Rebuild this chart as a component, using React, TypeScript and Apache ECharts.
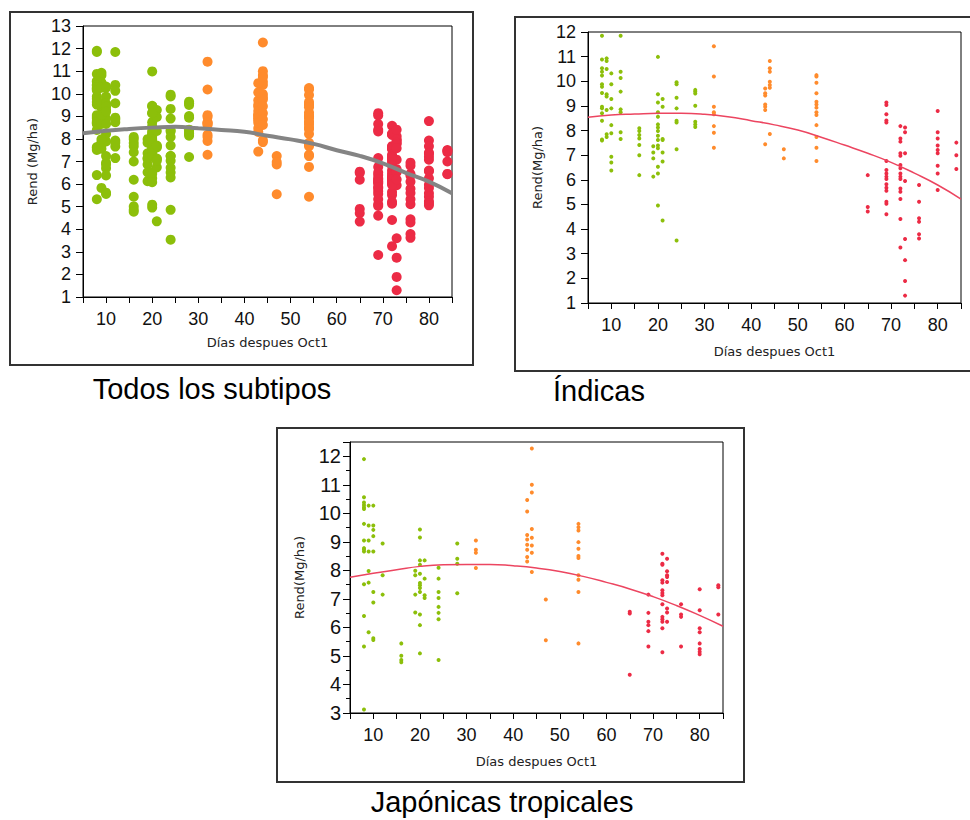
import React, { useEffect, useRef } from "react";
import * as echarts from "echarts";

const col = (x: number, ys: number[]) => ys.map((y) => [x, y]);

// Índicas
const indicaVerde: number[][] = [
  ...col(8, [11.85, 10.88, 10.53, 10.39, 10.23, 9.88, 9.78, 9.52, 8.97, 8.9, 8.7, 8.4, 7.64, 7.6]),
  ...col(9, [10.93, 10.82, 10.5, 9.47, 9.38, 8.83, 7.85, 7.74]),
  ...col(10, [10.32, 9.88, 9.28, 8.9, 8.22, 7.89, 6.94, 6.7, 6.38]),
  ...col(12, [11.85, 10.39, 10.13, 9.58, 8.86, 8.74, 7.93, 7.66]),
  ...col(16, [8.09, 7.98, 7.82, 7.68, 7.41, 7.0, 6.19]),
  ...col(19, [7.36, 7.11, 6.87, 6.13]),
  ...col(20, [10.99, 9.47, 9.14, 8.74, 8.56, 8.25, 8.12, 7.98, 7.79, 7.62, 7.39, 7.28, 6.53, 6.26, 4.96]),
  ...col(21, [9.28, 8.97, 7.66, 7.62, 7.11, 6.74, 4.35]),
  ...col(24, [9.96, 9.88, 9.33, 8.9, 8.4, 8.33, 7.24, 3.54]),
  ...col(28, [9.65, 9.58, 9.5, 9.01, 8.36, 8.25, 8.14]),
];
const indicaNaranja: number[][] = [
  ...col(32, [11.42, 10.19, 8.97, 8.74, 8.66, 8.18, 7.91, 7.3]),
  ...col(43, [9.71, 9.51, 9.42, 9.06, 8.97, 8.83, 7.44]),
  ...col(44, [10.82, 10.53, 10.39, 9.98, 9.85, 9.74, 7.86]),
  ...col(47, [7.24, 6.87]),
  ...col(54, [10.25, 10.19, 9.94, 9.51, 9.17, 9.06, 8.93, 8.74, 8.63, 8.22, 7.74, 7.3, 6.76]),
];
const indicaRojo: number[][] = [
  ...col(65, [6.19, 4.9, 4.71]),
  ...col(69, [9.14, 9.04, 8.66, 8.41, 8.33, 6.76, 6.4, 6.26, 6.13, 6.03, 5.82, 5.68, 5.56, 5.11, 5.03, 4.6]),
  ...col(72, [8.18, 7.68, 7.55, 7.08, 6.98, 6.6, 6.47, 6.26, 6.13, 6.03, 5.65, 5.52, 5.22, 4.41, 3.25]),
  ...col(73, [8.12, 7.93, 7.08, 5.95, 3.6, 2.74, 1.89, 1.3]),
  ...col(76, [5.79, 5.11, 4.44, 4.3, 3.79, 3.62]),
  ...col(80, [8.79, 7.93, 7.68, 7.39, 7.21, 7.08, 6.57, 6.26, 5.59]),
  ...col(84, [7.51, 7.0, 6.44]),
];

// Japónicas tropicales
const japVerde: number[][] = [
  ...col(8, [11.9, 10.56, 10.38, 10.29, 10.21, 10.15, 9.63, 9.05, 8.78, 8.73, 8.66, 7.51, 6.4, 5.33, 3.12]),
  ...col(9, [10.27, 9.57, 9.05, 8.66, 7.98, 7.57, 5.83]),
  ...col(10, [10.27, 9.57, 9.42, 9.2, 8.66, 7.24, 6.87, 5.62, 5.56]),
  ...col(12, [8.94, 7.83, 7.15]),
  ...col(16, [5.44, 5.01, 4.86, 4.78]),
  ...col(19, [7.99, 7.83, 7.15, 6.52]),
  ...col(20, [9.43, 9.15, 8.35, 8.2, 7.88, 7.56, 7.48, 7.38, 7.24, 6.45, 6.08, 5.09]),
  ...col(21, [8.35, 7.71, 7.13, 7.03]),
  ...col(24, [8.09, 7.71, 7.24, 7.03, 6.72, 6.51, 6.29, 4.86]),
  ...col(28, [8.94, 8.41, 8.23, 7.2]),
];
const japNaranja: number[][] = [
  ...col(32, [9.05, 8.72, 8.62, 8.08]),
  ...col(43, [10.47, 10.06, 9.24, 9.08, 8.9, 8.72, 8.47, 8.31]),
  ...col(44, [12.27, 11.0, 10.73, 9.45, 9.14, 8.87, 8.62, 7.94]),
  ...col(47, [6.98, 5.55]),
  ...col(54, [9.63, 9.51, 9.4, 8.99, 8.76, 8.5, 8.43, 7.83, 7.67, 7.24, 5.44]),
];
const japRojo: number[][] = [
  ...col(65, [6.55, 6.49, 4.34]),
  ...col(69, [7.15, 6.51, 6.2, 6.08, 5.87, 5.33]),
  ...col(72, [8.58, 8.23, 8.2, 7.65, 7.57, 7.3, 7.21, 7.13, 6.81, 6.37, 6.29, 6.2, 5.97, 5.13]),
  ...col(73, [8.41, 7.97, 7.83, 7.77, 7.59, 6.66, 6.52, 6.2]),
  ...col(76, [6.81, 6.45, 6.37, 5.33]),
  ...col(80, [7.34, 6.6, 5.97, 5.83, 5.44, 5.24, 5.15, 5.06]),
  ...col(84, [7.48, 7.41, 6.45]),
];

// Otros subtipos (solo en "Todos los subtipos")
const otrosVerde: number[][] = [];
const otrosRojo: number[][] = [[69, 2.86], [76, 6.95], [76, 6.1], [76, 5.6]];
const excluidosTodos: number[][] = [[8, 3.12]];

// Curvas de ajuste
const ajusteX = [5, 10, 15, 20, 25, 30, 35, 40, 45, 50, 55, 60, 65, 70, 75, 80, 85];
const ajusteTodos = [8.25, 8.36, 8.44, 8.5, 8.54, 8.47, 8.4, 8.32, 8.14, 7.98, 7.78, 7.5, 7.25, 6.92, 6.5, 6.11, 5.59];
const ajusteIndica = [8.54, 8.63, 8.67, 8.7, 8.7, 8.66, 8.56, 8.4, 8.23, 8.02, 7.73, 7.41, 7.08, 6.71, 6.27, 5.79, 5.22];
const ajusteJap = [7.76, 7.9, 8.02, 8.14, 8.2, 8.21, 8.21, 8.16, 8.08, 7.96, 7.79, 7.58, 7.35, 7.08, 6.77, 6.42, 6.04];

const titulos = ["Todos los subtipos", "Índicas", "Japónicas tropicales"];

const VERDE = "#8CBF0A";
const NARANJA = "#FF8B2C";
const ROJO = "#EC2B45";

const notExcluded = (p: number[]) => !excluidosTodos.some((e) => e[0] === p[0] && e[1] === p[1]);
const todosVerde = [...indicaVerde, ...japVerde, ...otrosVerde].filter(notExcluded);
const todosNaranja = [...indicaNaranja, ...japNaranja].filter(notExcluded);
const todosRojo = [...indicaRojo, ...japRojo, ...otrosRojo].filter(notExcluded);

const zip = (xs: number[], ys: number[]) => xs.map((x, i) => [x, ys[i]]);

export default function App() {
  const ref = useRef<HTMLDivElement>(null);
  useEffect(() => {
    if (!ref.current) return;
    const chart = echarts.init(ref.current, undefined, { renderer: "svg" });
    const grids = [
      { left: 83, top: 26, width: 369, height: 271 },
      { left: 588, top: 32, width: 373, height: 271 },
      { left: 350, top: 442, width: 373, height: 271 },
    ];
    const labelFont = "Liberation Sans";
    const nameFont = "DejaVu Sans";
    const xAxis = grids.map((_, i) => ({
      type: "value",
      gridIndex: i,
      min: 5,
      max: 85,
      interval: 5,
      name: "Días despues Oct1",
      nameLocation: "middle",
      nameGap: i === 0 ? 39 : 42,
      nameTextStyle: { fontFamily: nameFont, fontSize: 13, color: "#222" },
      axisLine: { show: true, lineStyle: { color: "#000", width: 1 } },
      axisTick: { show: true, length: 6, lineStyle: { color: "#000" } },
      axisLabel: {
        fontFamily: labelFont,
        fontSize: 18,
        color: "#111",
        margin: 13,
        formatter: (v: number) => (v % 10 === 0 ? String(v) : ""),
      },
      splitLine: { show: false },
    }));
    const yRanges = [
      [1, 13],
      [1, 12],
      [3, 12.5],
    ];
    const yAxis = grids.map((_, i) => ({
      type: "value",
      gridIndex: i,
      min: yRanges[i][0],
      max: yRanges[i][1],
      interval: 1,
      name: i === 0 ? "Rend (Mg/ha)" : "Rend(Mg/ha)",
      nameLocation: "middle",
      nameGap: 44,
      nameRotate: 90,
      nameTextStyle: { fontFamily: nameFont, fontSize: 13, color: "#222" },
      axisLine: { show: true, lineStyle: { color: "#000", width: 1 } },
      axisTick: { show: true, length: 7, lineStyle: { color: "#000" } },
      minorTick: { show: i === 2, splitNumber: 2, length: 4, lineStyle: { color: "#000" } },
      axisLabel: {
        fontFamily: labelFont,
        fontSize: i === 2 ? 20 : 18,
        color: "#111",
        margin: i === 2 ? 9 : 12,
        formatter: (v: number) => (Number.isInteger(v) ? String(v) : ""),
      },
      splitLine: { show: false },
    }));
    const scatter = (i: number, data: number[][], color: string, size: number) => ({
      type: "scatter",
      xAxisIndex: i,
      yAxisIndex: i,
      data,
      symbolSize: size,
      itemStyle: { color, opacity: 1 },
    });
    const fit = (i: number, ys: number[], color: string, width: number) => ({
      type: "line",
      xAxisIndex: i,
      yAxisIndex: i,
      data: zip(ajusteX, ys),
      smooth: true,
      showSymbol: false,
      symbol: "none",
      lineStyle: { color, width },
    });
    const series = [
      scatter(0, todosVerde, VERDE, 10),
      scatter(0, todosNaranja, NARANJA, 10),
      scatter(0, todosRojo, ROJO, 10),
      fit(0, ajusteTodos, "#848484", 4),
      scatter(1, indicaVerde, VERDE, 4),
      scatter(1, indicaNaranja, NARANJA, 4),
      scatter(1, indicaRojo, ROJO, 4),
      fit(1, ajusteIndica, "#EC4560", 1.5),
      scatter(2, japVerde, VERDE, 4),
      scatter(2, japNaranja, NARANJA, 4),
      scatter(2, japRojo, ROJO, 4),
      fit(2, ajusteJap, "#EC4560", 1.5),
    ];
    const frame = (x: number, y: number, w: number, h: number) => ({
      type: "rect",
      shape: { x, y, width: w, height: h },
      style: { fill: "none", stroke: "#333", lineWidth: 2 },
      silent: true,
    });
    const caption = (text: string, x: number, y: number, align: string) => ({
      type: "text",
      x,
      y,
      style: {
        text,
        fill: "#000",
        font: "29px 'Liberation Sans', Arial, sans-serif",
        textAlign: align,
        textVerticalAlign: "middle",
      },
      silent: true,
    });
    chart.setOption({
      animation: false,
      backgroundColor: "#fff",
      grid: grids.map((g) => ({ ...g, show: true, borderColor: "#000", borderWidth: 1, backgroundColor: "transparent" })),
      xAxis,
      yAxis,
      series,
      graphic: [
        frame(10, 12, 463, 353),
        frame(515, 17, 470, 354),
        frame(277, 428, 467, 354),
        caption(titulos[0], 212, 389, "center"),
        caption(titulos[1], 553, 391, "left"),
        caption(titulos[2], 502, 802, "center"),
      ],
    });
    return () => chart.dispose();
  }, []);
  return (
    <div
      ref={ref}
      style={{ position: "fixed", left: 0, top: 0, width: 970, height: 820, background: "#fff" }}
    />
  );
}
